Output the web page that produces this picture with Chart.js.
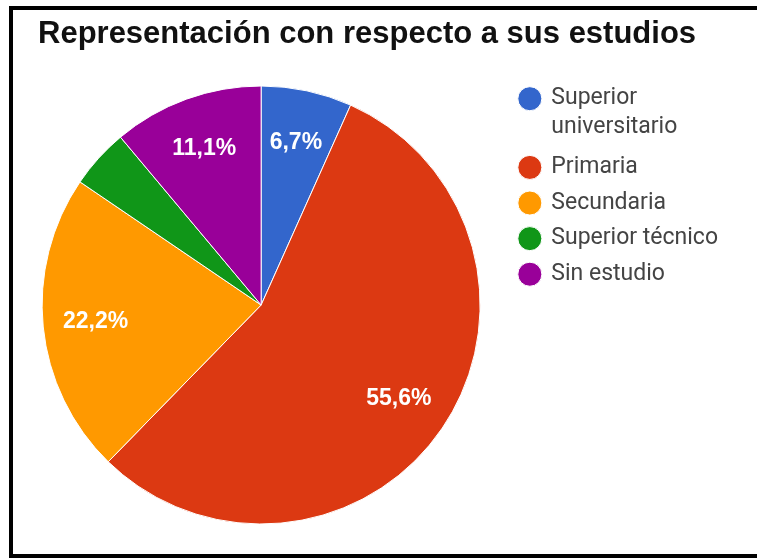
<!DOCTYPE html>
<html>
<head>
<meta charset="utf-8">
<script src="https://cdn.jsdelivr.net/npm/chart.js@4"></script>
<style>
  html, body { margin: 0; padding: 0; background: #fff; overflow: hidden; }
  #wrap { position: relative; width: 757px; height: 559px; }
  #frame { position: absolute; left: 9px; top: 6px; width: 800px; height: 552px; border: 4px solid #000; box-sizing: border-box; pointer-events: none; }
  canvas { position: absolute; left: 0; top: 0; }
</style>
</head>
<body>
<div id="wrap">
  <canvas id="estudios" width="757" height="559"></canvas>
  <div id="frame"></div>
</div>
<script>
const chartTitle = 'Representación con respecto a sus estudios';
const categories = [['Superior', 'universitario'], 'Primaria', 'Secundaria', 'Superior técnico', 'Sin estudio'];
const percentages = [6.7, 55.6, 22.2, 4.4, 11.1];
const sliceColors = ['#3366cc', '#dc3912', '#ff9900', '#109618', '#990099'];

// white percentage text inside the slices (small slices get none)
const sliceLabels = {
  id: 'sliceLabels',
  afterDatasetsDraw(chart) {
    const ctx = chart.ctx;
    const meta = chart.getDatasetMeta(0);
    const total = percentages.reduce((a, b) => a + b, 0);
    ctx.save();
    ctx.font = 'bold 23px "Liberation Sans", Arial, sans-serif';
    ctx.fillStyle = '#fff';
    ctx.textAlign = 'center';
    ctx.textBaseline = 'middle';
    meta.data.forEach((arc, i) => {
      const value = percentages[i];
      if (value / total < 0.05) return;
      const p = arc.getProps(['x', 'y', 'startAngle', 'endAngle', 'outerRadius'], true);
      const mid = (p.startAngle + p.endAngle) / 2;
      const r = p.outerRadius * 0.76;
      ctx.fillText(value.toFixed(1).replace('.', ',') + '%', p.x + Math.cos(mid) * r, p.y + Math.sin(mid) * r);
    });
    ctx.restore();
  }
};

// push the legend a bit away from the pie
const legendOffset = {
  id: 'legendOffset',
  afterLayout(chart) {
    chart.legend.left += 23;
    chart.legend.right += 23;
    chart.legend.top += 2;
    chart.legend.bottom += 2;
  }
};

new Chart(document.getElementById('estudios'), {
  type: 'pie',
  data: {
    labels: categories,
    datasets: [{
      data: percentages,
      backgroundColor: sliceColors,
      borderColor: '#fff',
      borderWidth: 1,
      radius: 219
    }]
  },
  options: {
    responsive: false,
    animation: false,
    layout: { padding: { left: 38, right: 52, top: 0, bottom: 21.6 } },
    plugins: {
      title: {
        display: true,
        text: chartTitle,
        align: 'start',
        color: '#111',
        font: { family: '"Liberation Sans", Arial, sans-serif', size: 31, weight: 'bold', lineHeight: 1.2 },
        padding: { top: 15.9, bottom: 19.5 }
      },
      legend: {
        position: 'right',
        align: 'start',
        fullSize: false,
        labels: {
          usePointStyle: true,
          pointStyle: 'circle',
          boxWidth: 20,
          boxHeight: 17,
          padding: 12.6,
          color: '#444',
          font: { family: 'Roboto', size: 23, lineHeight: 1.22 }
        }
      },
      tooltip: { enabled: false }
    }
  },
  plugins: [sliceLabels, legendOffset]
});
</script>
</body>
</html>
